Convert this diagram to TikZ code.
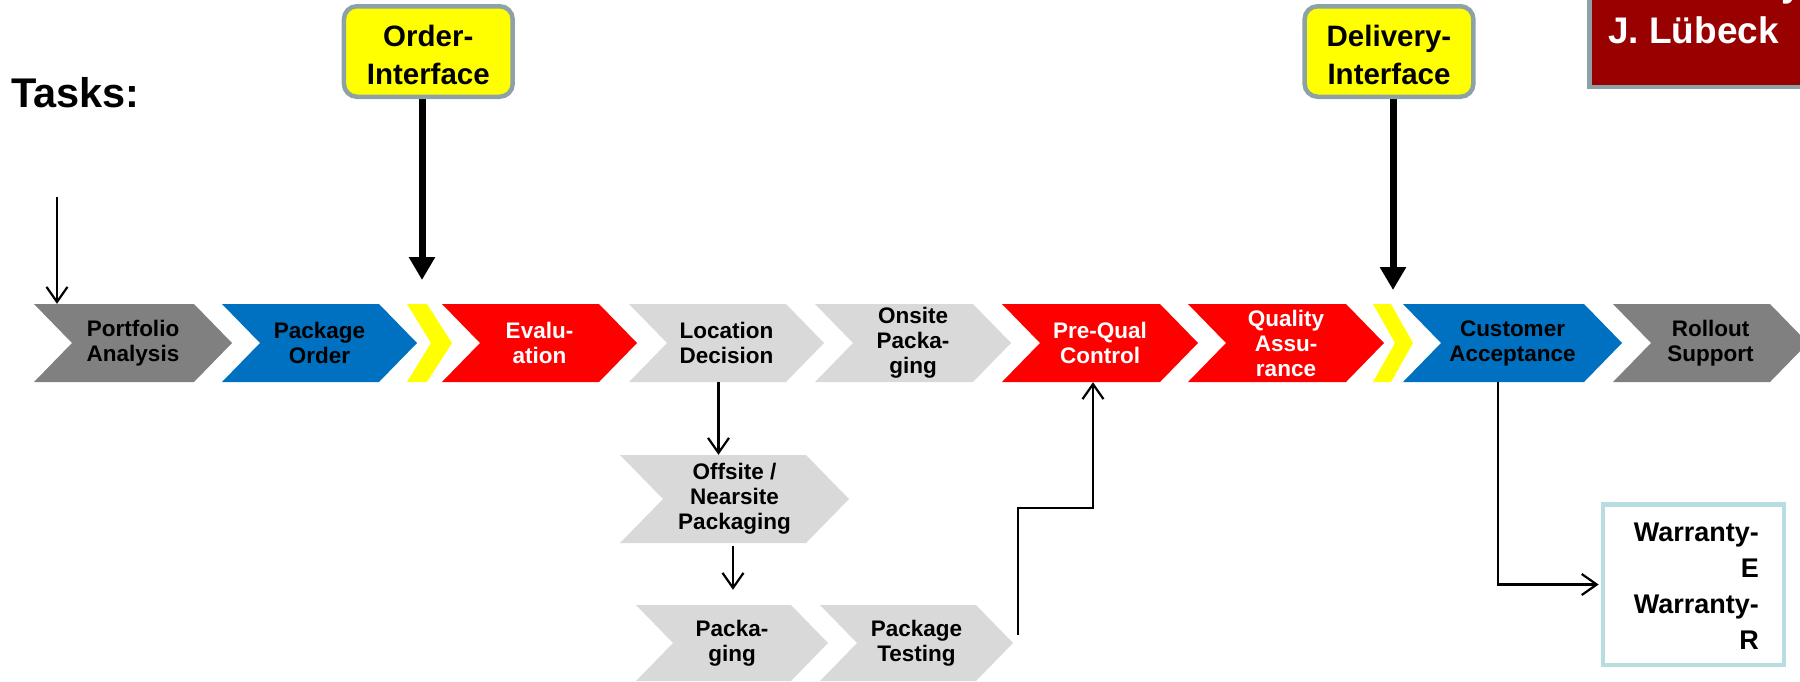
\documentclass[tikz,border=0pt]{standalone}
\usepackage{fontspec}
\setmainfont{Liberation Sans}
\usetikzlibrary{arrows.meta,calc}
\definecolor{cgrey}{HTML}{808080}
\definecolor{cblue}{HTML}{0070C0}
\definecolor{cred}{HTML}{FF0000}
\definecolor{clight}{HTML}{D9D9D9}
\definecolor{cyel}{HTML}{FFFF00}
\definecolor{cframe}{HTML}{8CA2A6}
\definecolor{cdark}{HTML}{990000}
\definecolor{cwar}{HTML}{B8DDE1}
% name, left, tip, ycenter, halfheight, depth, fill, textcolor, text
\newcommand\mychev[9]{%
  \fill[#7] (#2,{#4-#5}) -- ({#3-#6},{#4-#5}) -- (#3,#4) -- ({#3-#6},{#4+#5}) -- (#2,{#4+#5}) -- ({#2+#6},#4) -- cycle;
  \node[chevtext,text=#8,minimum width={(#3-#2)*1pt},minimum height={2*#5*1pt}] (#1) at ({(#2+#3)/2},#4) {#9};
}
\tikzset{
  chevtext/.style={inner sep=0pt,align=center,font=\fontsize{22.5}{25}\selectfont\bfseries},
  iface/.style={draw=cframe,line width=4.5pt,fill=cyel,rounded corners=13pt,minimum width=168.8pt,minimum height=90.5pt,inner sep=0pt},
  ifacetext/.style={inner sep=0pt,align=center,font=\fontsize{29.5}{37.5}\selectfont\bfseries},
  thinarr/.style={line width=2.2pt,-{Straight Barb[length=15pt,width=21pt]}},
  bigarr/.style={line width=7pt,-{Triangle[length=23pt,width=25pt]}},
}
\begin{document}
\begin{tikzpicture}[x=1pt,y=-1pt]
\useasboundingbox (0,0) rectangle (1800,681);

% title
\node[anchor=base west,inner sep=0pt,font=\fontsize{41.5}{41.5}\selectfont\bfseries] (tasks) at (11,107) {Tasks:};

% top-right box
\draw[draw=cframe,line width=4.5pt,fill=cdark] (1589.25,-20) rectangle (1830,86.75);
\node[anchor=base west,inner sep=0pt,text=white,font=\fontsize{37}{37}\selectfont\bfseries] (lubtop) at (1781,-4) {y};
\node[anchor=base west,inner sep=0pt,text=white,font=\fontsize{37}{37}\selectfont\bfseries] (lub) at (1608,43) {J. Lübeck};

% main row
\mychev{port}{34}{232}{343}{39}{38}{cgrey}{black}{Portfolio\\Analysis}
\mychev{pord}{222}{417}{343}{39}{38}{cblue}{black}{Package\\Order}
\fill[cyel] (407,304) -- (427,304) -- (452,343) -- (427,382) -- (407,382) -- (431,343) -- cycle;
\mychev{eval}{442}{637}{343}{39}{38}{cred}{white}{Evalu-\\ation}
\mychev{loc}{629}{824}{343}{39}{38}{clight}{black}{Location\\Decision}
\mychev{ons}{815}{1011}{343}{39}{38}{clight}{black}{Onsite\\Packa-\\ging}
\mychev{pre}{1002}{1198}{343}{39}{38}{cred}{white}{Pre-Qual\\Control}
\mychev{qa}{1188}{1384}{343}{39}{38}{cred}{white}{Quality\\Assu-\\rance}
\fill[cyel] (1373,304) -- (1391,304) -- (1413,343) -- (1391,382) -- (1373,382) -- (1395,343) -- cycle;
\mychev{cust}{1403}{1622}{343}{39}{38}{cblue}{black}{Customer\\Acceptance}
\mychev{roll}{1613}{1808}{343}{39}{38}{cgrey}{black}{Rollout\\Support}

% lower chevrons
\mychev{off}{620}{849}{499}{44}{43}{clight}{black}{Offsite /\\Nearsite\\Packaging}
\mychev{pk}{636}{828}{643}{38}{37}{clight}{black}{Packa-\\ging}
\mychev{test}{820}{1013}{643}{38}{37}{clight}{black}{Package\\Testing}

% interfaces
\coordinate (ordtip) at (422,280);
\coordinate (deltip) at (1393,290);
\draw[bigarr] (ordtip |- 0,90) -- (ordtip);
\draw[bigarr] (deltip |- 0,90) -- (deltip);
\node[iface] (order) at (428.3,51.5) {};
\node[ifacetext] (ordert) at (428.3,55) {Order-\\Interface};
\node[iface] (deliv) at (1389,51.5) {};
\node[ifacetext] (delivt) at (1389,55) {Delivery-\\Interface};

% warranty box
\node[draw=cwar,line width=4.5pt,minimum width=181pt,minimum height=160.5pt,inner sep=0pt] (warr) at (1693.4,584.5) {};
\node[anchor=north east,align=right,inner sep=0pt,font=\fontsize{27}{36}\selectfont\bfseries] (warrt) at (1759,523) {Warranty-\\E\\Warranty-\\R};

% connectors
\coordinate (in0) at (57,197);
\draw[thinarr] (in0) -- (in0 |- port.north);

\coordinate (a1) at ([xshift=-8pt]loc.south);
\draw[thinarr] (a1) -- (a1 |- off.north);

\coordinate (b1) at ([xshift=-1.5pt,yshift=-3pt]off.south);
\draw[thinarr,shorten >=15pt] (b1) -- (b1 |- pk.north);

\coordinate (c1) at ([xshift=5pt,yshift=8pt]test.east);
\coordinate (c2) at ([xshift=-7pt]pre.south);
\draw[thinarr] (c1) |- ([yshift=-126pt]c2) -- (c2);

\coordinate (d1) at ([xshift=-14.5pt]cust.south);
\draw[thinarr,shorten >=2pt] (d1) |- (warr.west);
\end{tikzpicture}
\end{document}
